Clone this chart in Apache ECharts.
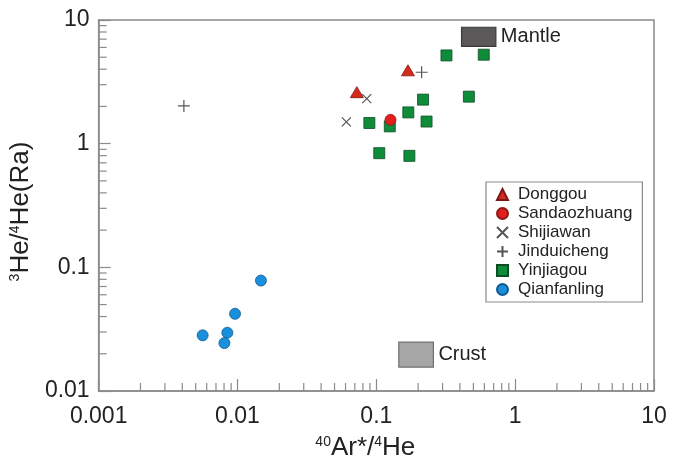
<!DOCTYPE html>
<html>
<head>
<meta charset="utf-8">
<script src="https://cdn.jsdelivr.net/npm/echarts@6/dist/echarts.min.js"></script>
<style>
  html, body { margin: 0; padding: 0; background: #fff; }
  #chart { width: 673px; height: 466px; }
</style>
</head>
<body>
<div id="chart"></div>
<script>
// --- data: [40Ar*/4He, 3He/4He (Ra)] ---
const donggou = [[0.0724, 2.61], [0.169, 3.92]];
const sandaozhuang = [[0.1265, 1.56]];
const shijiawan = [[0.0853, 2.31], [0.0608, 1.50]];
const jinduicheng = [[0.00411, 2.02], [0.212, 3.78]];
const yinjiagou = [
  [0.320, 5.17], [0.594, 5.24], [0.217, 2.27], [0.464, 2.40], [0.170, 1.79],
  [0.0891, 1.47], [0.125, 1.38], [0.230, 1.51], [0.105, 0.838], [0.173, 0.797]
];
const qianfanling = [[0.00561, 0.0282], [0.00845, 0.0296], [0.00805, 0.0244], [0.0096, 0.0421], [0.01475, 0.0782]];

// reference boxes: [xMin, yMax, xMax, yMin, label]
const boxes = [[0.411, 8.74, 0.726, 6.11, 'Mantle'], [0.1452, 0.0248, 0.2576, 0.0156, 'Crust']];

// tick labels
const xTickLabels = ['0.001', '0.01', '0.1', '1', '10'];
const yTickLabels = ['0.01', '0.1', '1', '10'];
const minorMultipliers = [2, 3, 4, 5, 6, 7, 8, 9];

const X_MIN = 0.001, X_MAX = 10, Y_MIN = 0.01, Y_MAX = 10;
const FONT = '"Liberation Sans", Arial, sans-serif';
const AXIS_COLOR = '#8a8a8a';

// minor tick values per decade
const xMinor = [];
for (let e = -3; e < 1; e++) minorMultipliers.forEach(m => xMinor.push([m * Math.pow(10, e), Y_MIN]));
const yMinor = [];
for (let e = -2; e < 1; e++) minorMultipliers.forEach(m => yMinor.push([X_MIN, m * Math.pow(10, e)]));

const chart = echarts.init(document.getElementById('chart'), null, { renderer: 'canvas' });

const xPath = 'path://M0,0L10,10M10,0L0,10';
const plusPath = 'path://M5,0L5,10M0,5L10,5';

const option = {
  animation: false,
  textStyle: { fontFamily: FONT },
  grid: {
    left: 92, right: 19, top: 20, bottom: 72,
    show: true, borderColor: AXIS_COLOR, borderWidth: 1.5
  },
  legend: {
    data: ['Donggou', 'Sandaozhuang', 'Shijiawan', 'Jinduicheng', 'Yinjiagou', 'Qianfanling'],
    orient: 'vertical',
    left: 486, top: 182,
    padding: [4, 10, 4, 10],
    itemGap: 2,
    itemWidth: 11,
    itemHeight: 11,
    borderColor: AXIS_COLOR,
    borderWidth: 1.2,
    backgroundColor: '#fff',
    textStyle: { fontFamily: FONT, fontSize: 17, color: '#222', lineHeight: 17, padding: [0, 0, 0, 5] }
  },
  xAxis: {
    type: 'log', logBase: 10, min: X_MIN, max: X_MAX,
    name: '{s|40}Ar*/{s|4}He',
    nameLocation: 'middle', nameGap: 44,
    nameTextStyle: {
      fontFamily: FONT, fontSize: 26, color: '#222', padding: [0, 22, 0, 0],
      rich: { s: { fontFamily: FONT, fontSize: 14, color: '#222', padding: [0, 0, 12, 0] } }
    },
    axisLine: { lineStyle: { color: AXIS_COLOR, width: 1.5 } },
    axisTick: { inside: true, length: 12, lineStyle: { color: AXIS_COLOR, width: 1.2 } },
    axisLabel: {
      margin: 14, fontFamily: FONT, fontSize: 23, color: '#222',
      formatter: v => xTickLabels[Math.round(Math.log10(v)) + 3]
    },
    splitLine: { show: false }
  },
  yAxis: {
    type: 'log', logBase: 10, min: Y_MIN, max: Y_MAX,
    name: '{s|3}He/{s|4}He(Ra)',
    nameLocation: 'middle', nameGap: 38,
    nameTextStyle: {
      fontFamily: FONT, fontSize: 26, color: '#222', padding: [0, 12, 0, 0],
      rich: { s: { fontFamily: FONT, fontSize: 14, color: '#222', padding: [0, 0, 12, 0] } }
    },
    axisLine: { lineStyle: { color: AXIS_COLOR, width: 1.5 } },
    axisTick: { inside: true, length: 12, lineStyle: { color: AXIS_COLOR, width: 1.2 } },
    axisLabel: {
      margin: 9, fontFamily: FONT, fontSize: 23, color: '#222',
      formatter: v => yTickLabels[Math.round(Math.log10(v)) + 2]
    },
    splitLine: { show: false }
  },
  series: [
    {
      name: 'minorX', type: 'custom', silent: true, clip: false, z: 1,
      data: xMinor,
      renderItem: (params, api) => {
        const p = api.coord([api.value(0), api.value(1)]);
        return { type: 'line', shape: { x1: p[0], y1: p[1], x2: p[0], y2: p[1] - 8 },
                 style: { stroke: AXIS_COLOR, lineWidth: 1.2 } };
      }
    },
    {
      name: 'minorY', type: 'custom', silent: true, clip: false, z: 1,
      data: yMinor,
      renderItem: (params, api) => {
        const p = api.coord([api.value(0), api.value(1)]);
        return { type: 'line', shape: { x1: p[0], y1: p[1], x2: p[0] + 8, y2: p[1] },
                 style: { stroke: AXIS_COLOR, lineWidth: 1.2 } };
      }
    },
    {
      name: 'boxes', type: 'custom', silent: true, z: 2,
      data: boxes,
      renderItem: (params, api) => {
        const a = api.coord([api.value(0), api.value(1)]);
        const b = api.coord([api.value(2), api.value(3)]);
        const isMantle = params.dataIndex === 0;
        return {
          type: 'group',
          children: [
            { type: 'rect', shape: { x: a[0], y: a[1], width: b[0] - a[0], height: b[1] - a[1] },
              style: { fill: isMantle ? '#5b5859' : '#a6a6a6', stroke: isMantle ? '#3a3a3a' : '#6e6e6e', lineWidth: 1.2 } },
            { type: 'text', x: b[0] + 5, y: (a[1] + b[1]) / 2,
              style: { text: boxes[params.dataIndex][4], font: '20px ' + FONT, fill: '#222',
                       verticalAlign: 'middle', align: 'left' } }
          ]
        };
      }
    },
    {
      name: 'Donggou', type: 'scatter', data: donggou, z: 4,
      symbol: 'triangle', symbolSize: [13, 11],
      itemStyle: { color: '#d62a1f', borderColor: '#7a1a12', borderWidth: 0.8, opacity: 1 }
    },
    {
      name: 'Sandaozhuang', type: 'scatter', data: sandaozhuang, z: 5,
      symbol: 'circle', symbolSize: 11,
      itemStyle: { color: '#e0201c', borderColor: '#8b1a1a', borderWidth: 0.8, opacity: 1 }
    },
    {
      name: 'Shijiawan', type: 'scatter', data: shijiawan, z: 4,
      symbol: xPath, symbolSize: 9,
      itemStyle: { color: '#555', borderColor: '#555', borderWidth: 1.2, opacity: 1 }
    },
    {
      name: 'Jinduicheng', type: 'scatter', data: jinduicheng, z: 4,
      symbol: plusPath, symbolSize: 12,
      itemStyle: { color: '#555', borderColor: '#555', borderWidth: 1.2, opacity: 1 }
    },
    {
      name: 'Yinjiagou', type: 'scatter', data: yinjiagou, z: 3,
      symbol: 'rect', symbolSize: 11,
      itemStyle: { color: '#0f8c3a', borderColor: '#0c4d24', borderWidth: 0.8, opacity: 1 }
    },
    {
      name: 'Qianfanling', type: 'scatter', data: qianfanling, z: 4,
      symbol: 'circle', symbolSize: 11,
      itemStyle: { color: '#1a8fdc', borderColor: '#105a8f', borderWidth: 0.8, opacity: 1 }
    }
  ]
};

chart.setOption(option);
</script>
</body>
</html>
